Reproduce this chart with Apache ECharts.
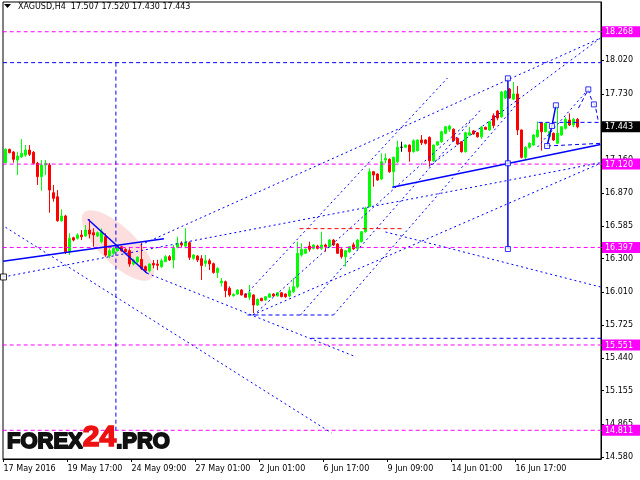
<!DOCTYPE html>
<html><head><meta charset="utf-8">
<script src="https://cdn.jsdelivr.net/npm/echarts@6/dist/echarts.min.js"></script>
<style>html,body{margin:0;padding:0;background:#fff}#c{width:640px;height:480px}</style>
</head><body><div id="c"></div>
<script>
const symbolName = 'XAGUSD,H4';
const xTickIdx = [-0.5, 15.5, 31.5, 47.5, 63.5, 79.5, 95.5, 111.5, 127.5];
const xTickLabels = ['17 May 2016','19 May 17:00','24 May 09:00','27 May 01:00','2 Jun 01:00','6 Jun 17:00','9 Jun 09:00','14 Jun 01:00','16 Jun 17:00'];
const yTickValues = [14.580,14.865,15.155,15.440,15.725,16.010,16.300,16.585,16.870,17.160,17.445,17.730,18.020];

const opens = [17.132,17.248,17.225,17.155,17.184,17.198,17.242,17.222,17.127,17.011,
17.112,17.112,16.872,16.837,16.629,16.670,16.360,16.481,16.476,16.505,
16.496,16.548,16.525,16.496,16.447,16.490,16.323,16.346,16.369,16.403,
16.380,16.369,16.253,16.273,16.294,16.230,16.195,16.259,16.253,16.230,
16.274,16.317,16.288,16.398,16.433,16.409,16.438,16.303,16.323,16.300,
16.259,16.282,16.256,16.180,16.090,16.100,16.043,15.978,15.993,16.028,
15.993,15.965,15.985,15.898,15.956,15.941,15.965,15.993,15.976,16.004,
15.993,15.976,16.013,16.056,16.331,16.346,16.409,16.389,16.409,16.389,
16.418,16.403,16.461,16.427,16.381,16.317,16.360,16.420,16.389,16.447,
16.533,16.750,17.054,17.034,16.990,17.155,17.161,17.054,17.141,17.266,
17.266,17.285,17.227,17.236,17.329,17.329,17.352,17.149,17.285,17.314,
17.387,17.422,17.422,17.344,17.314,17.227,17.372,17.408,17.392,17.357,
17.439,17.416,17.540,17.580,17.530,17.693,17.771,17.684,17.728,17.416,
17.179,17.266,17.285,17.357,17.479,17.401,17.357,17.387,17.300,17.372,
17.430,17.502,17.459,17.507];
const closes = [17.248,17.219,17.161,17.190,17.213,17.242,17.205,17.127,17.011,17.112,
17.127,16.895,16.823,16.629,16.670,16.360,16.476,16.461,16.505,16.490,
16.548,16.513,16.505,16.525,16.533,16.331,16.369,16.389,16.409,16.369,
16.360,16.253,16.288,16.312,16.216,16.195,16.253,16.245,16.242,16.282,
16.317,16.288,16.389,16.433,16.418,16.444,16.311,16.331,16.288,16.240,
16.282,16.254,16.180,16.216,16.105,16.022,15.985,15.990,16.028,15.985,
15.965,16.004,15.898,15.947,15.935,15.970,15.993,15.976,16.004,15.970,
15.970,16.022,16.056,16.346,16.381,16.381,16.381,16.418,16.389,16.418,
16.403,16.461,16.418,16.346,16.317,16.369,16.403,16.385,16.461,16.533,
16.739,17.054,17.025,16.982,17.141,17.170,17.054,17.179,17.266,17.266,
17.285,17.227,17.323,17.329,17.305,17.300,17.149,17.285,17.314,17.401,
17.444,17.450,17.323,17.294,17.227,17.392,17.392,17.381,17.357,17.439,
17.422,17.488,17.455,17.520,17.745,17.754,17.693,17.728,17.416,17.179,
17.266,17.300,17.372,17.416,17.401,17.474,17.401,17.329,17.387,17.444,
17.508,17.459,17.508,17.443];
const lows = [17.127,17.213,17.132,17.025,17.173,17.184,17.190,17.118,16.939,16.889,
17.025,16.698,16.794,16.620,16.620,16.340,16.332,16.450,16.465,16.461,
16.490,16.476,16.403,16.488,16.433,16.317,16.303,16.330,16.360,16.360,
16.350,16.230,16.240,16.260,16.201,16.180,16.180,16.216,16.200,16.220,
16.270,16.280,16.216,16.389,16.400,16.389,16.288,16.290,16.270,16.115,
16.230,16.201,16.170,16.132,16.060,15.965,15.970,15.970,15.985,15.980,
15.960,15.941,15.826,15.890,15.930,15.935,15.960,15.970,15.970,15.965,
15.960,15.965,16.000,16.043,16.317,16.340,16.360,16.380,16.380,16.375,
16.360,16.395,16.410,16.340,16.300,16.230,16.350,16.375,16.370,16.440,
16.525,16.745,16.924,16.975,16.980,17.127,17.045,16.924,17.130,17.227,
17.260,17.141,17.220,17.230,17.285,17.290,17.097,17.140,17.280,17.305,
17.380,17.400,17.315,17.285,17.220,17.220,17.365,17.375,17.350,17.340,
17.415,17.410,17.430,17.500,17.520,17.685,17.685,17.675,17.372,17.170,
17.160,17.255,17.280,17.350,17.236,17.395,17.350,17.320,17.295,17.365,
17.420,17.450,17.440,17.430];
const highs = [17.257,17.253,17.233,17.227,17.337,17.285,17.285,17.233,17.140,17.155,
17.155,17.130,16.939,16.895,16.728,16.680,16.520,16.490,16.520,16.548,
16.592,16.641,16.563,16.535,16.563,16.520,16.389,16.400,16.420,16.410,
16.390,16.389,16.300,16.320,16.438,16.240,16.260,16.288,16.290,16.300,
16.330,16.330,16.418,16.490,16.450,16.563,16.450,16.340,16.330,16.330,
16.331,16.300,16.265,16.225,16.132,16.110,16.060,16.000,16.035,16.035,
16.000,16.071,15.990,15.955,15.960,15.975,16.000,16.000,16.010,16.010,
15.998,16.056,16.132,16.447,16.433,16.390,16.447,16.425,16.420,16.533,
16.430,16.470,16.470,16.435,16.390,16.375,16.410,16.440,16.470,16.540,
16.750,17.083,17.060,17.040,17.213,17.213,17.170,17.185,17.323,17.314,
17.290,17.290,17.335,17.335,17.372,17.335,17.360,17.290,17.320,17.410,
17.450,17.460,17.430,17.350,17.320,17.400,17.444,17.415,17.398,17.450,
17.445,17.495,17.560,17.590,17.755,17.762,17.780,17.832,17.797,17.420,
17.275,17.310,17.380,17.488,17.485,17.480,17.410,17.395,17.618,17.450,
17.528,17.560,17.520,17.520];

const levelValues = [18.268, 17.120, 16.397, 15.551, 14.811];
const lastPrice = 17.443;
const dottedLines = [
  [[0, 16.572], [81.5, 14.788]],
  [[35.4, 16.173], [87.1, 15.455]],
  [[-0.5, 16.141], [148.75, 17.132]],
  [[33.75, 16.418], [148.75, 18.213]],
  [[61.75, 15.811], [148.75, 17.127]],
  [[95, 16.531], [148.75, 16.054]],
  [[60, 15.985], [110.5, 17.867]],
  [[62, 15.811], [116.25, 17.502]],
  [[73.75, 15.811], [118.75, 17.589]],
  [[82, 15.811], [128.75, 17.676]],
  [[106.25, 17.112], [148.75, 18.213]],
  [[133, 17.268], [145.7, 17.768]]
];
const dashedLines = [
  [[-0.6, 18.0], [149, 18.0]],
  [[76.25, 15.609], [149, 15.609]],
  [[27.6, 18.0], [27.6, 14.811]],
  [[60.5, 15.811], [82, 15.811]],
  [[133.25, 17.482], [148.75, 17.482]],
  [[135.4, 17.277], [148.75, 17.300]],
  [[143.25, 17.606], [145.7, 17.768], [146.25, 17.702], [147.5, 17.615], [148.25, 17.485]]
];
const redDashedLine = [[73.5, 16.560], [99.5, 16.560]];
const solidLines = [
  [[-0.6, 16.277], [39.6, 16.473]],
  [[20.6, 16.641], [35.4, 16.173]],
  [[96.7, 16.919], [148.75, 17.290]],
  [[125.6, 17.864], [125.6, 16.383]],
  [[135.4, 17.277], [136.6, 17.450], [137.6, 17.630]]
];
const anchorSquares = [[125.6,17.864],[125.6,17.127],[125.6,16.383],[135.4,17.277],[136.6,17.450],[137.6,17.630],[145.7,17.768],[147.1,17.638]];
const leftMarker = [[-0.5, 16.141]];
const highlightZone = [[20, 16.687, 36.25, 16.141]];

const FONT = 'DejaVu Sans';
const chart = echarts.init(document.getElementById('c'), null, {renderer: 'canvas'});
const series = [];

series.push({
  type: 'custom', z: 1, silent: true, clip: true, data: highlightZone,
  renderItem: function (params, api) {
    const a = api.coord([api.value(0), api.value(1)]);
    const b = api.coord([api.value(2), api.value(3)]);
    const cx = (a[0] + b[0]) / 2, cy = (a[1] + b[1]) / 2;
    const len = Math.hypot(b[0] - a[0], b[1] - a[1]);
    const ang = Math.atan2(b[1] - a[1], b[0] - a[0]);
    return { type: 'ellipse', x: cx, y: cy, rotation: -ang,
      shape: { cx: 0, cy: 0, rx: len / 2 + 2, ry: 18 },
      style: { fill: '#fddede' } };
  }
});

series.push({
  type: 'candlestick', z: 3, barWidth: 2,
  data: opens.map((o, i) => [i, o, closes[i], lows[i], highs[i]]),
  itemStyle: { color: '#00ff00', color0: '#ff0000', borderColor: '#00ff00', borderColor0: '#ff0000', borderColorDoji: '#000000', borderWidth: 1 }
});

function addLine(points, color, type, width, z) {
  series.push({ type: 'line', data: points, symbol: 'none', silent: true, z: z,
    lineStyle: { color: color, type: type, width: width } });
}
levelValues.forEach(v => addLine([[-0.7, v], [149, v]], '#ff00ff', [4, 3], 1, 4));
dottedLines.forEach(p => addLine(p, '#0000ff', [2, 3], 1, 5));
dashedLines.forEach(p => addLine(p, '#0000ff', [4, 3], 1, 5));
addLine(redDashedLine, '#ff0000', [4, 3], 1, 5);
solidLines.forEach(p => addLine(p, '#0000ff', 'solid', 1.5, 6));

series.push({ type: 'scatter', z: 7, silent: true, data: anchorSquares, symbol: 'rect', symbolSize: 5,
  itemStyle: { color: '#ffffff', borderColor: '#0000ff', borderWidth: 1 } });
series.push({ type: 'scatter', z: 7, silent: true, clip: false, data: leftMarker, symbol: 'rect', symbolSize: 6,
  itemStyle: { color: '#ffffff', borderColor: '#000000', borderWidth: 1 } });

const priceBoxes = levelValues.map(v => [148.875, v, 0]).concat([[148.875, lastPrice, 1]]);
series.push({
  type: 'custom', z: 10, silent: true, clip: false, data: priceBoxes,
  renderItem: function (params, api) {
    const p = api.coord([api.value(0), api.value(1)]);
    const bg = api.value(2) === 1 ? '#000000' : '#ff00ff';
    return { type: 'group', children: [
      { type: 'rect', shape: { x: p[0] + 1, y: p[1] - 5.5, width: 38, height: 11 }, style: { fill: bg } },
      { type: 'text', x: p[0] + 4, y: p[1] + 0.5, style: { text: api.value(1).toFixed(3), fill: '#ffffff',
        font: '8px "' + FONT + '"', align: 'left', verticalAlign: 'middle' } }
    ] };
  }
});

const last = opens.length - 1;
const titleText = symbolName + '  ' + [opens[last], highs[last], lows[last], closes[last]].map(v => v.toFixed(3)).join(' ');

chart.setOption({
  animation: false,
  backgroundColor: '#ffffff',
  grid: { left: 3, top: 2, right: 39, bottom: 21, show: true, borderColor: '#000', borderWidth: 1, backgroundColor: '#ffffff' },
  xAxis: { type: 'value', min: -0.625, max: 148.875,
    axisLine: { show: true, onZero: false, lineStyle: { color: '#000' } },
    splitLine: { show: false },
    axisTick: { show: true, customValues: xTickIdx, length: 3, lineStyle: { color: '#000' } },
    axisLabel: { customValues: xTickIdx, align: 'left', margin: 6, color: '#000', fontFamily: FONT, fontSize: 8,
      formatter: v => xTickLabels[Math.round((v + 0.5) / 16)] || '' } },
  yAxis: { type: 'value', position: 'right', min: 14.562, max: 18.526,
    axisLine: { show: true, onZero: false, lineStyle: { color: '#000' } },
    splitLine: { show: false },
    axisTick: { show: true, customValues: yTickValues, length: 3, lineStyle: { color: '#000' } },
    axisLabel: { customValues: yTickValues, margin: 4, color: '#000', fontFamily: FONT, fontSize: 8,
      formatter: v => v.toFixed(3) } },
  graphic: [
    { type: 'polygon', shape: { points: [[4, 4], [11, 4], [7.5, 8]] }, style: { fill: '#000' }, z: 20 },
    { type: 'text', x: 18, y: 7, z: 20, style: { text: titleText, fill: '#000', font: '8px "' + FONT + '"', verticalAlign: 'middle' } },
    { type: 'text', x: 7, y: 453, z: 20, style: {
      text: '{a|FOREX}{b|24}{a|.PRO}', verticalAlign: 'bottom',
      rich: {
        a: { fontSize: 22, fontWeight: 'bold', fontFamily: 'Liberation Sans', fill: '#111', stroke: '#111', lineWidth: 1.8, verticalAlign: 'bottom' },
        b: { fontSize: 30, fontWeight: 'bold', fontFamily: 'Liberation Sans', fill: '#ee1111', stroke: '#ee1111', lineWidth: 1.6, verticalAlign: 'bottom' }
      } } }
  ],
  series: series
});
</script>
</body></html>
